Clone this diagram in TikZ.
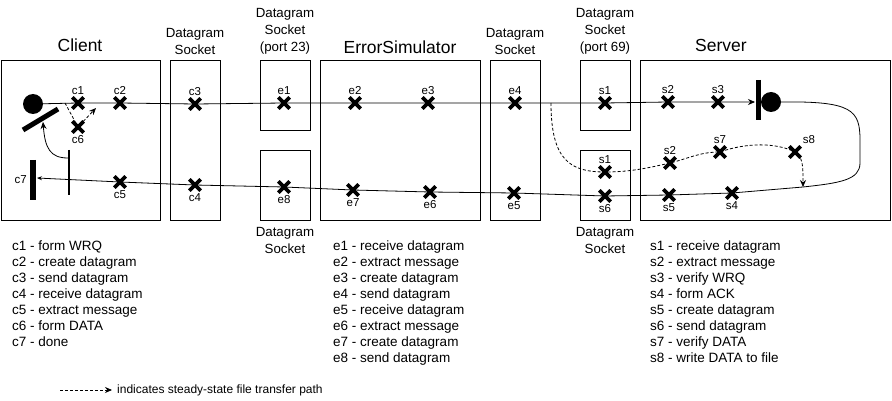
\documentclass[tikz,border=0pt]{standalone}
\usepackage{fontspec}
\setmainfont{Liberation Sans}
\usetikzlibrary{positioning,shapes.misc,arrows.meta}

\tikzset{
  box/.style={draw, line width=0.8pt, inner sep=0pt, anchor=north west},
  xmark/.style={cross out, draw, line width=3.8pt, minimum size=7.5pt, inner sep=0pt},
  dot/.style={circle, fill, minimum size=20pt, inner sep=0pt},
  lbl/.style={font=\fontsize{11.5}{12}\selectfont, inner sep=1pt},
  title/.style={font=\fontsize{17.5}{20}\selectfont},
  sock/.style={font=\fontsize{13.3}{17}\selectfont, align=center},
  list/.style={font=\fontsize{13.5}{16}\selectfont, align=left, anchor=north west, inner sep=0pt},
  flow/.style={line width=0.8pt},
  steady/.style={line width=0.8pt, dash pattern=on 3pt off 2pt},
  arr/.style={-{Stealth[length=7pt,width=6pt]}},
  arrs/.style={-{Stealth[length=5pt,width=4pt]}}
}

\begin{document}
\begin{tikzpicture}[x=1pt,y=-1pt,label distance=1.5pt]
    \useasboundingbox (0,0) rectangle (892,401);

    \node[box, minimum width=159pt, minimum height=160pt] (client) at (1,60) {};
    \node[box, minimum width=50pt, minimum height=160pt] (csock) at (170,60) {};
    \node[box, minimum width=50pt, minimum height=70pt] (esockin) at (260,60) {};
    \node[box, minimum width=50pt, minimum height=70pt] (esockout) at (260,150) {};
    \node[box, minimum width=160pt, minimum height=160pt] (errsim) at (320,60) {};
    \node[box, minimum width=50pt, minimum height=160pt] (esock) at (490,60) {};
    \node[box, minimum width=50pt, minimum height=70pt] (ssockin) at (580,60) {};
    \node[box, minimum width=50pt, minimum height=70pt] (ssockout) at (580,150) {};
    \node[box, minimum width=250pt, minimum height=160pt] (server) at (640,60) {};

    \node[title] at (80,45) {Client};
    \node[sock] at (195,41) {Datagram\\Socket};
    \node[sock] at (285,31) {Datagram\\Socket\\(port 23)};
    \node[title] at (400,47) {ErrorSimulator};
    \node[sock] at (515,41) {Datagram\\Socket};
    \node[sock] at (605,31) {Datagram\\Socket\\(port 69)};
    \node[title] at (721,45) {Server};
    \node[sock] at (285,240) {Datagram\\Socket};
    \node[sock] at (605,240) {Datagram\\Socket};

    \node[dot] (cdot) at (33,104) {};
    \node[dot] (sdot) at (771,102) {};
    \draw[line width=5pt] (23,130) -- (58,109);
    \draw[line width=2.5pt] (69,150) -- (69,195);
    \draw[line width=6pt] (33,160) -- (33,200);
    \draw[line width=5pt] (758,80) -- (758,120);

    \node[xmark, label={[lbl]above:c1}] (c1) at (78,103) {};
    \node[xmark, label={[lbl]above:c2}] (c2) at (120,103) {};
    \node[xmark, label={[lbl]above:c3}] (c3) at (195,104) {};
    \node[xmark, label={[lbl]above:e1}] (e1) at (284,103) {};
    \node[xmark, label={[lbl]above:e2}] (e2) at (355,103) {};
    \node[xmark, label={[lbl]above:e3}] (e3) at (428,103) {};
    \node[xmark, label={[lbl]above:e4}] (e4) at (515,103) {};
    \node[xmark, label={[lbl]above:s1}] (s1) at (605,103) {};
    \node[xmark, label={[lbl]above:s2}] (s2) at (668,102) {};
    \node[xmark, label={[lbl]above:s3}] (s3) at (718,102) {};

    \node[xmark, label={[lbl]below:c6}] (c6) at (78,127) {};

    \node[xmark, label={[lbl]below:c5}] (c5) at (120,182) {};
    \node[xmark, label={[lbl]below:c4}] (c4) at (195,185) {};
    \node[xmark, label={[lbl]below:e8}] (e8) at (284,187) {};
    \node[xmark, label={[lbl]below:e7}] (e7) at (353,190) {};
    \node[xmark, label={[lbl]below:e6}] (e6) at (430,192) {};
    \node[xmark, label={[lbl]below:e5}] (e5) at (514,193) {};
    \node[xmark, label={[lbl]below:s6}] (s6) at (605,196) {};
    \node[xmark, label={[lbl]below:s5}] (s5) at (669,195) {};
    \node[xmark, label={[lbl]below:s4}] (s4) at (732,193) {};

    \node[xmark, label={[lbl]above:s1}] (s1b) at (605,172) {};
    \node[xmark, label={[lbl]above:s2}] (s2b) at (670,163) {};
    \node[xmark, label={[lbl]above:s7}] (s7) at (720,152) {};
    \node[xmark, label={[lbl]above right:s8}] (s8) at (795,152) {};

    \node[lbl, anchor=east] (c7) at (28,180) {c7};

    \coordinate (sbar) at (755,102);
    \coordinate (sjoin) at (803,187);
    \coordinate (cend) at (37,178);
    \coordinate (cfork) at (65,103);
    \coordinate (cback) at (96,108);
    \coordinate (cwait) at (68,158);
    \coordinate (cslant) at (43,122);
    \coordinate (efork) at (551,103);

    \draw[flow, arr] (cdot) -- (c1.center) -- (c2.center) -- (c3.center) -- (e1.center)
        -- (e2.center) -- (e3.center) -- (e4.center) -- (s1.center) -- (s2.center)
        -- (s3.center) -- (sbar);
    \draw[flow, arrs] (sdot.east) .. controls (852,101) and (860,110) .. (860,140)
        -- (860,163) .. controls (860,180) and (840,183) .. (sjoin)
        -- (s4.center) -- (s5.center) -- (s6.center) -- (e5.center) -- (e6.center)
        -- (e7.center) -- (e8.center) -- (c4.center) -- (c5.center) -- (cend);
    \draw[flow, arr] (cwait) .. controls (50,158) and (45,148) .. (cslant);
    \draw[steady, arr] (cfork) -- (c6.center) -- (cback);
    \draw[steady, arr] (efork) .. controls (551,160) and (570,172) .. (s1b.center)
        .. controls (630,172) and (648,168) .. (s2b.center)
        .. controls (690,158) and (700,152) .. (s7.center)
        .. controls (745,143) and (775,142) .. (s8.center)
        .. controls (803,158) and (803,165) .. (sjoin);

    \node[list] (clist) at (12,241) {c1 - form WRQ\\c2 - create datagram\\c3 - send datagram\\c4 - receive datagram\\c5 - extract message\\c6 - form DATA\\c7 - done};
    \node[list] (elist) at (333,241) {e1 - receive datagram\\e2 - extract message\\e3 - create datagram\\e4 - send datagram\\e5 - receive datagram\\e6 - extract message\\e7 - create datagram\\e8 - send datagram};
    \node[list] (slist) at (650,241) {s1 - receive datagram\\s2 - extract message\\s3 - verify WRQ\\s4 - form ACK\\s5 - create datagram\\s6 - send datagram\\s7 - verify DATA\\s8 - write DATA to file};

    \coordinate (legstart) at (60,390);
    \node[font=\fontsize{12}{14}\selectfont, anchor=west, inner xsep=5pt] (legend) at (112,390) {indicates steady-state file transfer path};
    \draw[steady, arr] (legstart) -- (legend.west);
\end{tikzpicture}
\end{document}
